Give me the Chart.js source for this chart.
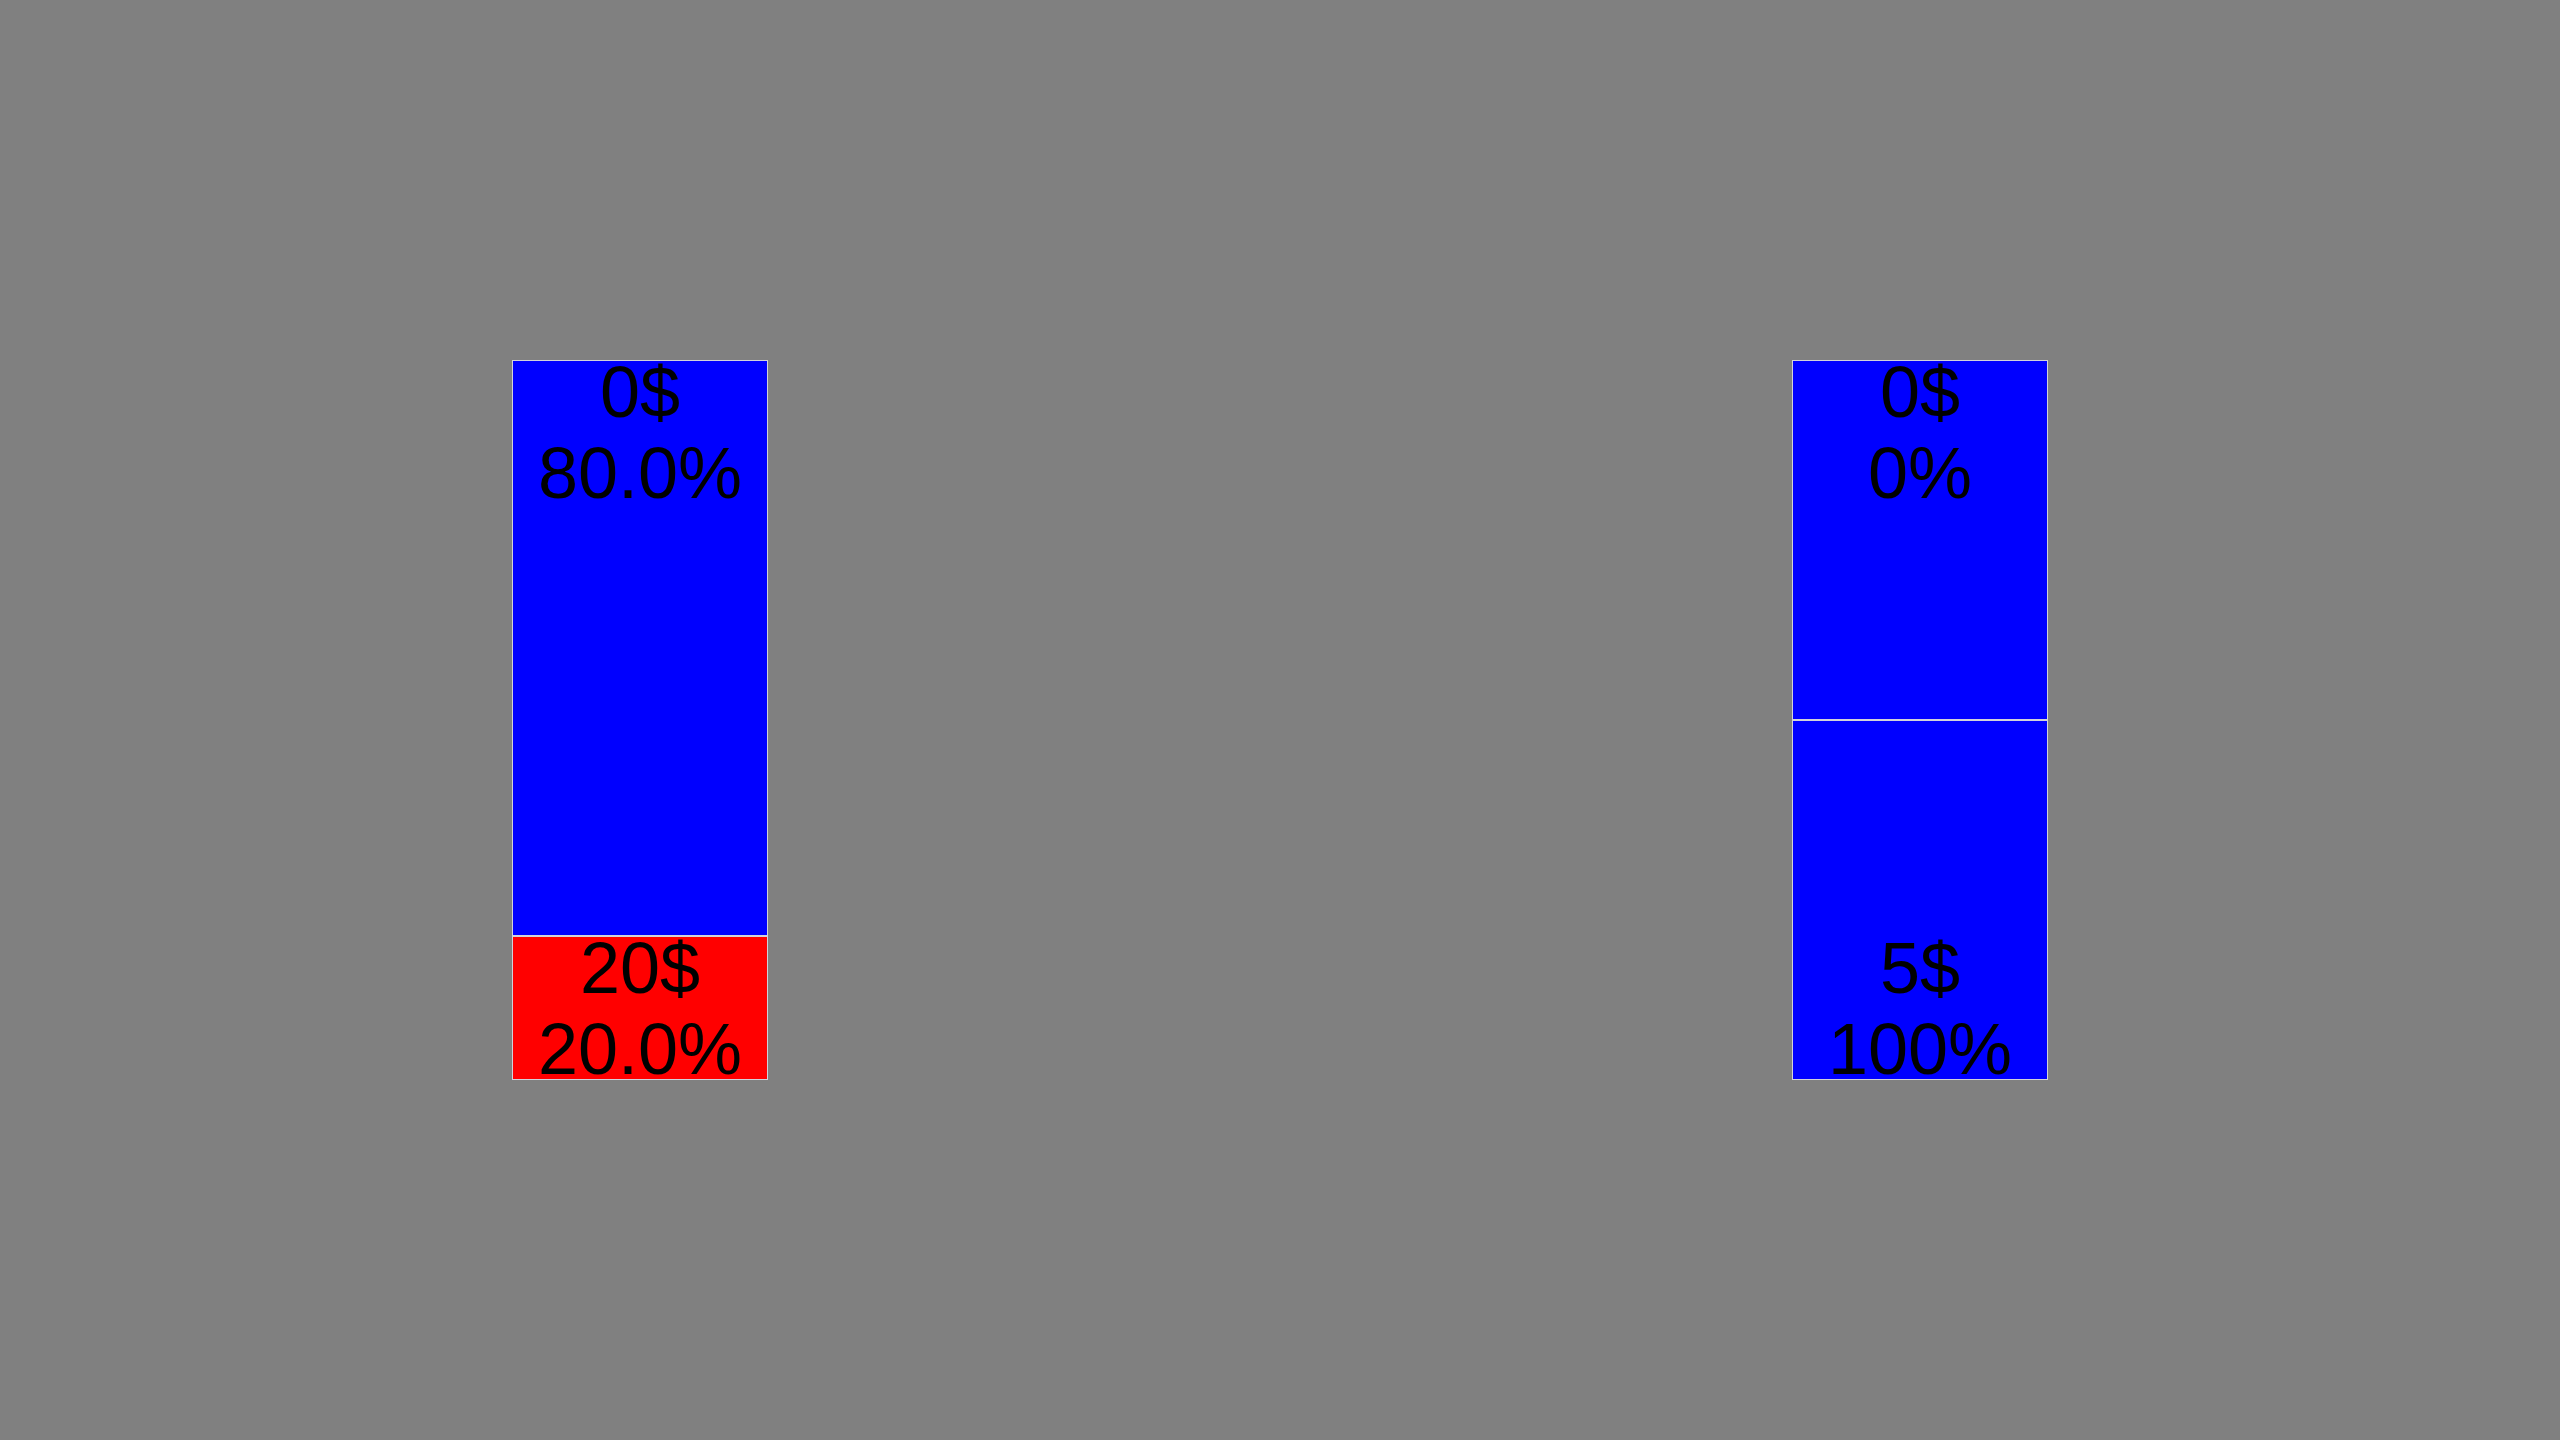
<!DOCTYPE html>
<html>
<head>
<meta charset="utf-8">
<script src="https://cdn.jsdelivr.net/npm/chart.js@4/dist/chart.umd.min.js"></script>
<style>
  html, body { margin: 0; padding: 0; background: #808080; }
  canvas { display: block; }
</style>
</head>
<body>
<canvas id="c" width="2560" height="1440"></canvas>
<script>
const categories = ['A', 'B'];
const bottomValues = [20, 50];
const topValues = [80, 50];
const bottomAmounts = ['20$', '5$'];
const bottomPercents = ['20.0%', '100%'];
const topAmounts = ['0$', '0$'];
const topPercents = ['80.0%', '0%'];
const bottomColors = ['#ff0000', '#0000ff'];
const topColors = ['#0000ff', '#0000ff'];

const labelPlugin = {
  id: 'segLabels',
  afterDatasetsDraw(chart) {
    const ctx = chart.ctx;
    ctx.save();
    ctx.font = '72px "Liberation Sans", Arial, sans-serif';
    ctx.fillStyle = '#000000';
    ctx.textAlign = 'center';
    ctx.textBaseline = 'alphabetic';
    const lh = 81;
    chart.getDatasetMeta(0).data.forEach((bar, i) => {
      const base = bar.base;
      ctx.fillText(bottomPercents[i], bar.x, base - 6);
      ctx.fillText(bottomAmounts[i], bar.x, base - 6 - lh);
    });
    chart.getDatasetMeta(1).data.forEach((bar, i) => {
      const top = bar.y;
      ctx.fillText(topAmounts[i], bar.x, top + 57);
      ctx.fillText(topPercents[i], bar.x, top + 57 + lh);
    });
    ctx.restore();
  }
};

const bgPlugin = {
  id: 'bg',
  beforeDraw(chart) {
    const ctx = chart.ctx;
    ctx.save();
    ctx.fillStyle = '#808080';
    ctx.fillRect(0, 0, chart.width, chart.height);
    ctx.restore();
  }
};

new Chart(document.getElementById('c'), {
  type: 'bar',
  data: {
    labels: categories,
    datasets: [
      { data: bottomValues, backgroundColor: bottomColors, borderColor: 'rgba(225,225,235,0.85)', borderWidth: 1, borderSkipped: false, barPercentage: 1, categoryPercentage: 0.2 },
      { data: topValues, backgroundColor: topColors, borderColor: 'rgba(225,225,235,0.85)', borderWidth: 1, borderSkipped: false, barPercentage: 1, categoryPercentage: 0.2 }
    ]
  },
  options: {
    responsive: false,
    animation: false,
    layout: { padding: { top: 360, bottom: 360, left: 0, right: 0 } },
    plugins: { legend: { display: false }, tooltip: { enabled: false } },
    scales: {
      x: { stacked: true, display: false },
      y: { stacked: true, display: false, min: 0, max: 100 }
    }
  },
  plugins: [bgPlugin, labelPlugin]
});
</script>
</body>
</html>
